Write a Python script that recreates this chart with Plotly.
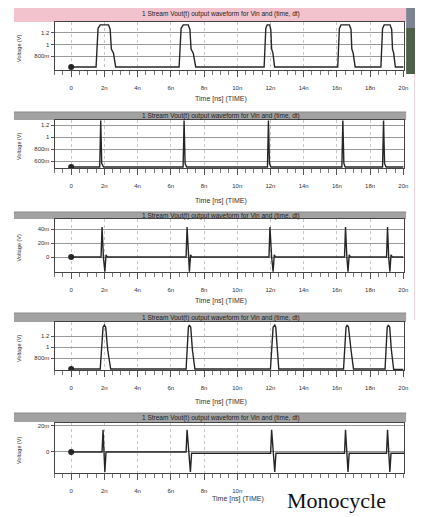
import plotly.graph_objects as go

# the page body keeps its default 8 px margin, so the figure is drawn 8 px smaller
OFF = 8
W, H = 423 - OFF, 517 - OFF

# ---------------- data ----------------
x_tick_vals = [0, 2, 4, 6, 8, 10, 12, 14, 16, 18, 20]
x_tick_text = ["0", "2n", "4n", "6n", "8n", "10n", "12n", "14n", "16n", "18n", "20n"]

panel_title = "1 Stream Vout(t) output waveform for Vin and (time, dt)"
x_title = "Time [ns] (TIME)"
y_title = "Voltage (V)"

# panel 1 : wide pulses
t1 = [0, 1.5, 1.62, 1.75, 2.25, 2.35, 2.42, 2.55, 2.68,
      6.5, 6.62, 6.75, 7.05, 7.15, 7.22, 7.35, 7.5,
      11.62, 11.72, 11.8, 11.95, 12.02, 12.07, 12.15, 12.25,
      16.05, 16.15, 16.25, 16.75, 16.85, 16.9, 16.98, 17.1,
      18.65, 18.75, 18.85, 19.2, 19.3, 19.35, 19.42, 19.52, 20.0]
v1 = [0.61, 0.61, 1.28, 1.34, 1.34, 1.26, 0.92, 0.85, 0.61,
      0.61, 1.28, 1.34, 1.34, 1.26, 0.92, 0.85, 0.61,
      0.61, 1.28, 1.34, 1.34, 1.26, 0.92, 0.85, 0.61,
      0.61, 1.28, 1.34, 1.34, 1.26, 0.92, 0.85, 0.61,
      0.61, 1.28, 1.34, 1.34, 1.26, 0.92, 0.85, 0.61, 0.61]

# panel 2 : narrow spikes
t2 = [0, 1.72, 1.78, 1.84, 1.95, 6.74, 6.8, 6.86, 6.95,
      11.82, 11.88, 11.94, 12.03, 16.3, 16.36, 16.42, 16.5,
      18.75, 18.81, 18.87, 18.96, 20.0]
v2 = [0.5, 0.5, 1.28, 0.56, 0.5, 0.5, 1.28, 0.56, 0.5,
      0.5, 1.28, 0.56, 0.5, 0.5, 1.28, 0.56, 0.5,
      0.5, 1.28, 0.56, 0.5, 0.5]

# panel 3 : derivative-like spikes (V)
t3 = [0, 1.8, 1.86, 1.94, 2.03, 2.1, 2.18,
      6.92, 6.98, 7.05, 7.12, 7.19, 7.27,
      11.91, 11.97, 12.07, 12.16, 12.23, 12.31,
      16.46, 16.52, 16.6, 16.67, 16.74, 16.82,
      18.99, 19.05, 19.12, 19.19, 19.26, 19.34, 20.0]
v3 = [0, 0, 0.043, 0.0, -0.021, 0.003, 0,
      0, 0.043, 0.0, -0.021, 0.003, 0,
      0, 0.043, 0.0, -0.021, 0.003, 0,
      0, 0.043, 0.0, -0.021, 0.003, 0,
      0, 0.043, 0.0, -0.021, 0.003, 0, 0]

# panel 4 : triangular-ish pulses
t4 = [0, 1.75, 1.92, 2.0, 2.08, 2.2, 2.38,
      6.92, 7.06, 7.12, 7.2, 7.3, 7.45,
      12.0, 12.16, 12.26, 12.32, 12.4, 12.5,
      16.4, 16.55, 16.62, 16.7, 16.85, 17.0,
      18.9, 19.03, 19.1, 19.18, 19.28, 19.42, 20.0]
v4 = [0.6, 0.6, 1.36, 1.4, 1.36, 0.95, 0.6,
      0.6, 1.36, 1.4, 1.36, 0.95, 0.6,
      0.6, 1.36, 1.4, 1.36, 0.95, 0.6,
      0.6, 1.36, 1.4, 1.36, 0.95, 0.6,
      0.6, 1.36, 1.4, 1.36, 0.95, 0.59, 0.59]

# panel 5 : monocycle
t5 = [0, 1.86, 1.92, 1.98, 2.03, 2.1,
      6.92, 6.98, 7.08, 7.18, 7.25,
      12.01, 12.07, 12.17, 12.26, 12.33,
      16.46, 16.52, 16.6, 16.67, 16.74,
      18.99, 19.05, 19.12, 19.19, 19.26, 20.1]
v5 = [0, 0, 0.017, 0.0, -0.0154, 0,
      0, 0.017, 0.0, -0.0154, -0.001,
      -0.001, 0.017, 0.0, -0.0154, -0.001,
      -0.001, 0.017, 0.0, -0.0154, -0.001,
      -0.001, 0.017, 0.0, -0.0154, -0.001, -0.001]

y_ticks = [
    ([0.8, 1.0, 1.2], ["800m", "1", "1.2"]),
    ([0.6, 0.8, 1.0, 1.2], ["600m", "800m", "1", "1.2"]),
    ([0.0, 0.02, 0.04], ["0", "20m", "40m"]),
    ([0.8, 1.0, 1.2], ["800m", "1", "1.2"]),
    ([0.0, 0.02], ["0", "20m"]),
]
series = [(t1, v1), (t2, v2), (t3, v3), (t4, v4), (t5, v5)]

# ---------------- layout geometry (page pixels) ----------------
plot_x0, plot_x1 = 55, 408
panels = [
    dict(bar=(6, 22), plot=(22, 70), yr=[0.557, 1.39], color="#f2c3cc", xt=99),
    dict(bar=(112, 120), plot=(120, 168), yr=[0.483, 1.29], color="#a2a2a2", xt=201),
    dict(bar=(212, 219), plot=(219, 272), yr=[-0.0215, 0.0545], color="#a2a2a2", xt=301),
    dict(bar=(313, 322), plot=(322, 370), yr=[0.582, 1.455], color="#a2a2a2", xt=402),
    dict(bar=(413, 422), plot=(423, 473), yr=[-0.0162, 0.0223], color="#a2a2a2", xt=499),
]


def px(x):
    return (x - OFF) / W


def py(y):
    return 1 - (y - OFF) / H


fig = go.Figure()
shapes = []
annotations = []
layout = {}


def note(text, x, y, size, color="#333", family="Liberation Sans", angle=0):
    annotations.append(dict(text=text, xref="paper", yref="paper", x=px(x), y=py(y),
                            xanchor="center", yanchor="middle", textangle=angle,
                            showarrow=False,
                            font=dict(size=size, color=color, family=family)))


for i, (p, (tt, vv)) in enumerate(zip(panels, series)):
    n = i + 1
    xa = "x" if n == 1 else f"x{n}"
    ya = "y" if n == 1 else f"y{n}"
    fig.add_trace(go.Scatter(x=tt, y=vv, mode="lines", xaxis=xa, yaxis=ya,
                             line=dict(color="#262626", width=1.4), showlegend=False,
                             hoverinfo="skip"))
    fig.add_trace(go.Scatter(x=[tt[0]], y=[vv[0]], mode="markers", xaxis=xa, yaxis=ya,
                             marker=dict(color="#262626", size=6), showlegend=False,
                             hoverinfo="skip"))
    xkey = "xaxis" if n == 1 else f"xaxis{n}"
    ykey = "yaxis" if n == 1 else f"yaxis{n}"
    if n == 5:
        tv, tx = x_tick_vals[:6], x_tick_text[:6]
    else:
        tv, tx = x_tick_vals, x_tick_text
    layout[xkey] = dict(
        domain=[px(plot_x0), px(plot_x1)], anchor=ya, range=[-1, 20.05],
        tickmode="array", tickvals=tv, ticktext=tx,
        ticks="outside", ticklen=6, tickcolor="#555", tickwidth=1,
        ticklabelstandoff=6,
        minor=dict(ticks="outside", ticklen=4, dtick=0.5, tickcolor="#777",
                   showgrid=False),
        showgrid=True, gridcolor="#c8c8c8", griddash="dot", gridwidth=1,
        showline=True, linecolor="#444", linewidth=1, mirror=True,
        zeroline=False, tickfont=dict(size=6, color="#333", family="Liberation Sans"),
    )
    yv, ytxt = y_ticks[i]
    layout[ykey] = dict(
        domain=[py(p["plot"][1]), py(p["plot"][0])], anchor=xa, range=p["yr"],
        tickmode="array", tickvals=yv, ticktext=ytxt,
        ticks="outside", ticklen=3, tickcolor="#555",
        showgrid=True, gridcolor="#9a9a9a", gridwidth=1,
        showline=True, linecolor="#444", linewidth=1, mirror=True,
        zeroline=False, tickfont=dict(size=6, color="#333", family="Liberation Sans"),
    )
    # title bar
    shapes.append(dict(type="rect", xref="paper", yref="paper",
                       x0=px(14), x1=px(410), y0=py(p["bar"][1]), y1=py(p["bar"][0]),
                       fillcolor=p["color"], line=dict(width=0), layer="below"))
    shapes.append(dict(type="line", xref="paper", yref="paper",
                       x0=px(14), x1=px(410), y0=py(p["bar"][0]), y1=py(p["bar"][0]),
                       line=dict(color="#8a8a8a", width=1), layer="below"))
    note(panel_title, 223, (p["bar"][0] + p["bar"][1]) / 2 + 0.5, 6.5, color="#222")
    # x title
    note(x_title, 240 if n == 5 else 223, p["xt"], 7)
    # y title
    note(y_title, 19, (p["plot"][0] + p["plot"][1]) / 2 + 2, 5.5, angle=-90)

# right-edge artefacts of the screenshot
shapes.append(dict(type="rect", xref="paper", yref="paper", x0=px(410), x1=px(423),
                   y0=py(28), y1=py(5), fillcolor="#7c8494", line=dict(width=0),
                   layer="below"))
shapes.append(dict(type="rect", xref="paper", yref="paper", x0=px(410), x1=px(423),
                   y0=py(74), y1=py(28), fillcolor="#4e6048", line=dict(width=0),
                   layer="below"))
shapes.append(dict(type="rect", xref="paper", yref="paper", x0=px(418), x1=px(423),
                   y0=py(320), y1=py(74), fillcolor="#f0d6dc", line=dict(width=0),
                   layer="below"))

note("Monocycle", 340, 500, 22, color="#111", family="Liberation Serif")

fig.update_layout(
    width=W, height=H, margin=dict(l=0, r=0, t=0, b=0),
    paper_bgcolor="white", plot_bgcolor="white",
    shapes=shapes, annotations=annotations, **layout,
)

fig.write_html("out.html")
